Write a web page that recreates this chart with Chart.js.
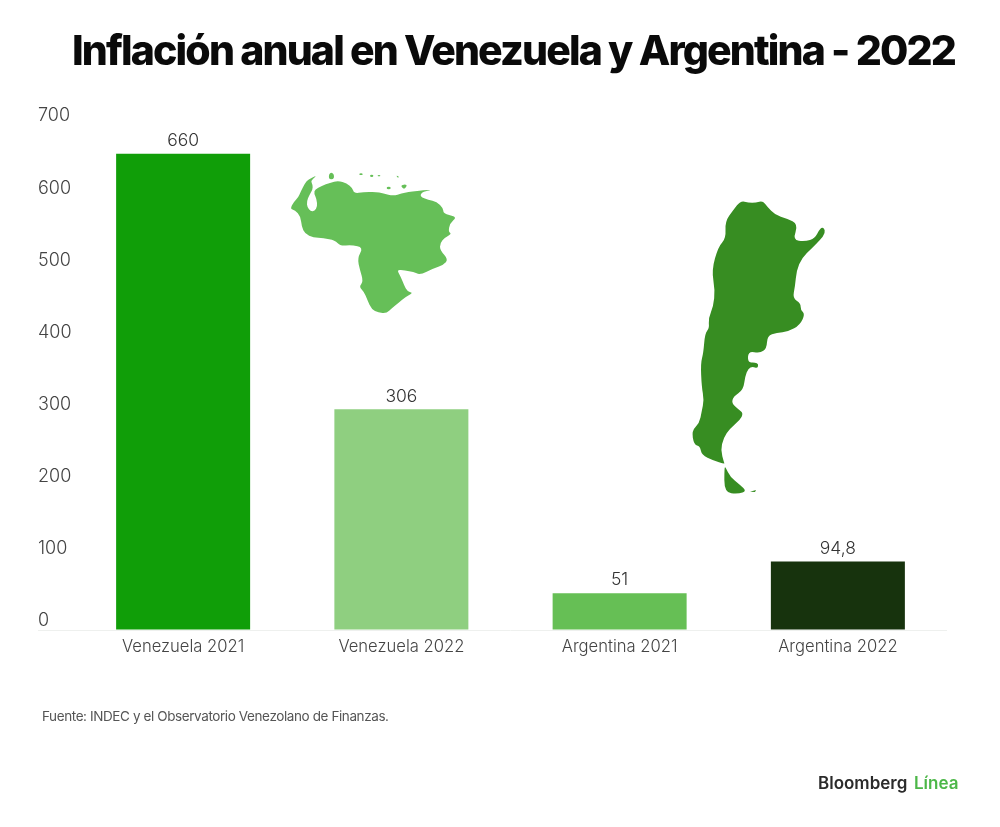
<!DOCTYPE html>
<html lang="es">
<head>
<meta charset="utf-8">
<title>Inflación anual en Venezuela y Argentina - 2022</title>
<style>html,body{margin:0;padding:0;background:#fff}canvas{display:block}</style>
<script src="https://cdn.jsdelivr.net/npm/chart.js@4/dist/chart.umd.js"></script>
</head>
<body>
<canvas id="c" width="1000" height="827" style="width:1000px;height:827px"></canvas>
<script>
const categories = ["Venezuela 2021", "Venezuela 2022", "Argentina 2021", "Argentina 2022"];
const inflationValues = [660, 306, 51, 94.8];
const valueLabels = ["660", "306", "51", "94,8"];
const barColors = ["#109e08", "#8fcf80", "#66bf55", "#17330d"];
const titleText = "Inflación anual en Venezuela y Argentina - 2022";
const sourceText = "Fuente: INDEC y el Observatorio Venezolano de Finanzas.";

// Decorative map silhouettes (not data), traced at 3x from their own corners
const venezuelaShapes = [
 [30,147,42,125,55,112,62,95,75,70,85,58,107,48,107,50,92,62,98,75,98,88,88,105,80,125,82,142,92,154,104,153,112,140,110,118,102,100,105,88,125,78,150,68,175,62,200,70,218,85,222,100,250,97,285,95,310,100,340,108,365,100,385,96,410,93,450,89,450,91,425,97,420,110,445,120,470,125,490,145,490,160,510,165,530,172,510,190,505,215,515,222,495,232,480,250,480,270,505,298,490,315,460,325,420,345,400,335,375,332,350,328,362,350,372,375,382,395,400,398,375,412,360,425,335,445,320,460,295,458,275,448,262,420,252,395,237,380,250,365,240,330,232,295,250,262,215,255,180,258,165,240,130,235,100,232,75,222,65,200,62,170,45,150]
];
const venezuelaIslands = [
 [146,48,150,38,158,38,163,48,160,58,148,58],
 [238,40,248,40,248,45,238,45],[270,44,280,44,280,51,270,51],[293,45,301,45,301,49,293,49],[348,46,358,50,354,54],
 [320,80,332,80,332,88,320,88],[362,75,382,73,376,86,368,86]
];
const argentinaShapes = [
 [182,32,205,38,228,38,248,32,262,50,285,75,320,85,355,103,338,150,375,155,405,145,420,115,432,112,436,130,420,150,395,175,365,205,350,240,345,290,338,325,362,340,362,360,375,372,360,405,325,425,290,428,262,438,260,475,240,490,205,483,203,518,225,517,236,522,232,535,218,530,205,535,195,560,190,600,160,620,155,640,175,658,190,670,180,690,150,715,130,745,122,780,132,818,134,822,100,812,65,795,60,768,42,765,35,722,58,700,65,665,72,630,65,590,62,520,70,490,75,430,88,415,85,385,100,350,105,300,95,240,115,170,138,145,135,95,160,60],
 [133,832,137,832,150,860,180,885,200,903,175,912,133,908]
];
const argentinaIslets = [[210,905,228,900,225,906]];

function drawShapes(ctx, shapes, ox, oy, color, smooth) {
  ctx.fillStyle = color;
  for (const s of shapes) {
    const pts = [];
    for (let i = 0; i < s.length; i += 2) pts.push([ox + s[i] / 3, oy + s[i + 1] / 3]);
    const n = pts.length;
    ctx.beginPath();
    if (smooth) {
      ctx.moveTo((pts[n - 1][0] + pts[0][0]) / 2, (pts[n - 1][1] + pts[0][1]) / 2);
      for (let i = 0; i < n; i++) {
        const q = pts[(i + 1) % n];
        ctx.quadraticCurveTo(pts[i][0], pts[i][1], (pts[i][0] + q[0]) / 2, (pts[i][1] + q[1]) / 2);
      }
    } else {
      pts.forEach((p, i) => i ? ctx.lineTo(p[0], p[1]) : ctx.moveTo(p[0], p[1]));
    }
    ctx.closePath();
    ctx.fill();
  }
}

const extras = {
  id: "extras",
  beforeDatasetsDraw(chart) {
    const ctx = chart.ctx;
    ctx.save();
    drawShapes(ctx, venezuelaShapes, 280, 160, "#66bf58", true);
    drawShapes(ctx, venezuelaIslands, 280, 160, "#66bf58", true);
    drawShapes(ctx, argentinaShapes, 680, 190, "#378d22", true);
    drawShapes(ctx, argentinaIslets, 680, 190, "#378d22", false);
    ctx.restore();
  },
  afterDatasetsDraw(chart) {
    const ctx = chart.ctx;
    const meta = chart.getDatasetMeta(0);
    ctx.save();
    ctx.textBaseline = "middle";
    ctx.textAlign = "left";
    ctx.font = "800 41px Inter";
    ctx.letterSpacing = "-1.85px";
    ctx.fillStyle = "#0a0a0a";
    ctx.fillText(titleText, 72, 53);
    ctx.letterSpacing = "0px";
    ctx.font = "300 17.5px Inter";
    ctx.fillStyle = "#333";
    ctx.textAlign = "center";
    meta.data.forEach((bar, i) => ctx.fillText(valueLabels[i], bar.x, bar.y - 13));
    ctx.textAlign = "left";
    ctx.font = "13.5px Inter";
    ctx.letterSpacing = "-0.4px";
    ctx.fillStyle = "#555";
    ctx.fillText(sourceText, 42, 717);
    ctx.letterSpacing = "0px";
    ctx.font = "600 17px Inter";
    ctx.fillStyle = "#2b2b2b";
    ctx.fillText("Bloomberg", 818, 784);
    ctx.fillStyle = "#4cb748";
    ctx.fillText("Línea", 914, 784);
    ctx.restore();
  }
};

new Chart(document.getElementById("c"), {
  type: "bar",
  data: {
    labels: categories,
    datasets: [{ data: inflationValues, backgroundColor: barColors, barPercentage: 1, categoryPercentage: 0.614, borderWidth: 0 }]
  },
  options: {
    responsive: false,
    animation: false,
    devicePixelRatio: 1,
    layout: { padding: { left: 38, right: 53, top: 125, bottom: 157 } },
    plugins: {
      legend: { display: false },
      tooltip: { enabled: false },
      title: { display: false }
    },
    scales: {
      x: {
        afterFit(s) { s.height = 40; },
        border: { display: false },
        grid: { display: false, drawTicks: false, tickLength: 0 },
        ticks: { color: "#444", padding: 7, maxRotation: 0, font: { family: "Inter", size: 16.6, weight: "300" } }
      },
      y: {
        min: 0, max: 700,
        afterFit(s) { s.width = 36; },
        border: { display: false },
        grid: {
          drawTicks: true, tickLength: 36,
          color: c => c.tick && c.tick.value === 0 ? "#eef0ee" : "rgba(0,0,0,0)",
          tickColor: c => c.tick && c.tick.value === 0 ? "#eef0ee" : "rgba(0,0,0,0)"
        },
        ticks: { stepSize: 100, color: "#444", crossAlign: "far", labelOffset: -9, font: { family: "Inter", size: 18, weight: "300" } }
      }
    }
  },
  plugins: [extras]
});
</script>
</body>
</html>
